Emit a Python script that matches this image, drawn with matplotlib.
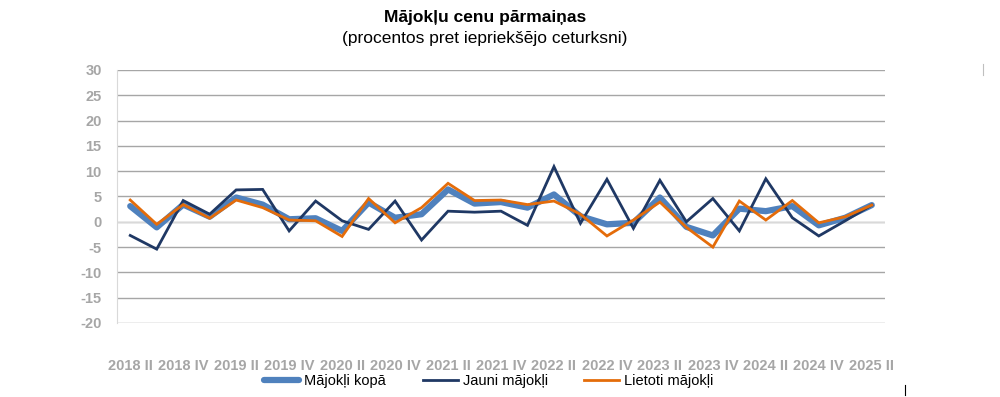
import numpy as np
import matplotlib
matplotlib.use("Agg")
import matplotlib.pyplot as plt
from matplotlib.lines import Line2D

plt.rcParams["axes.unicode_minus"] = False

# quarters 2018 II .. 2025 II
quarters = ["2018 II", "2018 III", "2018 IV", "2019 I", "2019 II", "2019 III", "2019 IV",
            "2020 I", "2020 II", "2020 III", "2020 IV", "2021 I", "2021 II", "2021 III",
            "2021 IV", "2022 I", "2022 II", "2022 III", "2022 IV", "2023 I", "2023 II",
            "2023 III", "2023 IV", "2024 I", "2024 II", "2024 III", "2024 IV", "2025 I",
            "2025 II"]

kopa = [3.1, -1.1, 3.4, 1.0, 4.8, 3.4, 0.5, 0.7, -1.8, 3.8, 0.8, 1.5, 6.4, 3.6, 3.9,
        2.8, 5.4, 1.1, -0.5, -0.2, 4.8, -1.0, -2.7, 2.6, 2.1, 3.1, -0.7, 0.8, 3.3]
jauni = [-2.7, -5.4, 4.2, 1.5, 6.3, 6.4, -1.8, 4.1, 0.2, -1.5, 4.1, -3.6, 2.1, 1.9, 2.1,
         -0.7, 10.9, -0.3, 8.4, -1.3, 8.2, 0.0, 4.6, -1.8, 8.5, 0.8, -2.8, 0.2, 3.3]
lietoti = [4.3, -0.5, 3.4, 0.7, 4.3, 2.8, 0.35, 0.2, -2.9, 4.6, -0.2, 2.8, 7.6, 4.2, 4.3,
           3.4, 4.1, 1.5, -2.8, 0.35, 3.9, -1.1, -5.0, 4.1, 0.35, 4.2, -0.2, 1.0, 3.3]

series_names = ["Mājokļi kopā", "Jauni mājokļi", "Lietoti mājokļi"]

x = np.arange(len(quarters))

fig = plt.figure(figsize=(10, 3.97), dpi=100)
ax = fig.add_axes([0.117, 0.1864, 0.768, 0.6373])

ax.plot(x, kopa, color="#4f81bd", lw=4.5, solid_capstyle="round", solid_joinstyle="round",
        label=series_names[0], zorder=3)
ax.plot(x, jauni, color="#1f3864", lw=2.0, solid_joinstyle="miter",
        label=series_names[1], zorder=4)
ax.plot(x, lietoti, color="#e46c0a", lw=2.0, solid_joinstyle="miter",
        label=series_names[2], zorder=5)

ax.set_xlim(-0.5, 28.5)
ax.set_ylim(-20, 30)
ax.set_yticks(range(-20, 31, 5))
ax.set_xticks(x[::2])
ax.set_xticklabels(quarters[::2])

ax.grid(axis="y", color="#a6a6a6", lw=1.0)
for sp in ["top", "right", "bottom"]:
    ax.spines[sp].set_visible(False)
ax.spines["left"].set_color("#d9d9d9")
ax.axhline(0, color="#d9d9d9", lw=1.0, zorder=2)

ax.tick_params(axis="both", length=0, colors="#a6a6a6")
ax.tick_params(axis="x", pad=26)
ax.tick_params(axis="y", pad=11)
for lab in ax.get_xticklabels() + ax.get_yticklabels():
    lab.set_fontfamily("Liberation Sans")
    lab.set_fontsize(10.5)
    lab.set_fontweight("bold")

fig.text(0.485, 0.957, "Mājokļu cenu pārmaiņas", ha="center", va="center",
         fontsize=12.5, fontweight="bold", family="Liberation Sans")
fig.text(0.485, 0.903, "(procentos pret iepriekšējo ceturksni)", ha="center", va="center",
         fontsize=12.5, family="Liberation Sans")

leg = fig.legend(loc="center", bbox_to_anchor=(0.489, 0.04), ncol=3, frameon=False,
                 handlelength=2.4, columnspacing=2.5, handletextpad=0.35,
                 prop={"family": "Liberation Sans", "size": 10.5})

# small stray marks seen in the source image
fig.add_artist(Line2D([0.983, 0.983], [0.81, 0.84], color="#bfbfbf", lw=0.8))
fig.add_artist(Line2D([0.905, 0.905], [0.005, 0.03], color="black", lw=0.8))

fig.savefig("out.png", dpi=100)
